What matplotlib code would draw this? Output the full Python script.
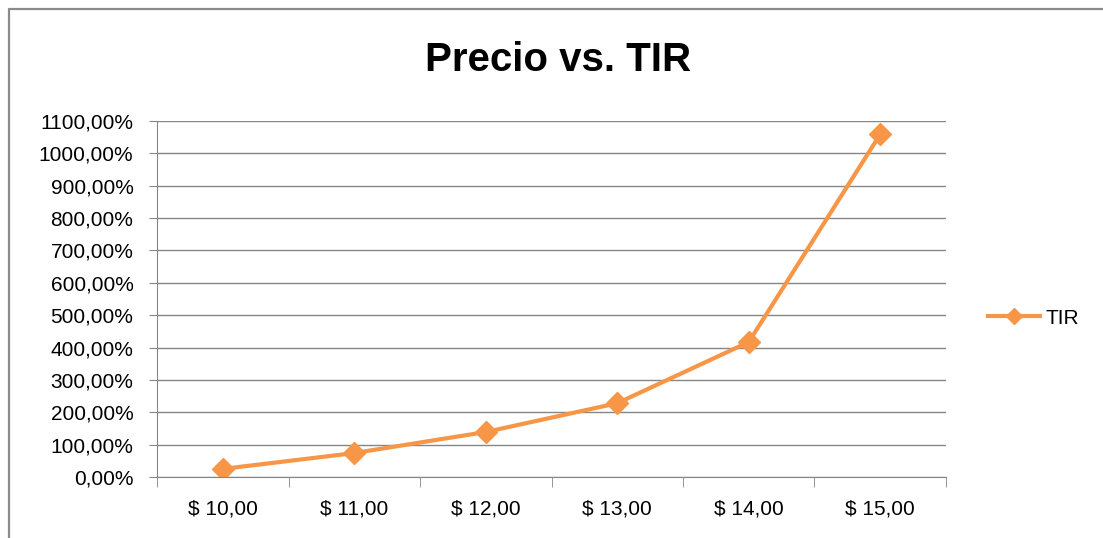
import matplotlib
matplotlib.use('Agg')
import matplotlib.pyplot as plt
from matplotlib.lines import Line2D
from matplotlib.ticker import FuncFormatter

plt.rcParams['font.family'] = ['Liberation Sans', 'DejaVu Sans']

precios = ['$ 10,00', '$ 11,00', '$ 12,00', '$ 13,00', '$ 14,00', '$ 15,00']
tir = [25, 74, 139, 228, 417, 1059]  # en %
ticks_y = list(range(0, 1101, 100))

naranja = '#F79646'
gris = '#868686'

fig = plt.figure(figsize=(11.03, 5.38), dpi=100)
# marco del grafico (solo arriba e izquierda, el resto queda fuera de la captura)
bx, by = 8.5 / 1103, 1 - 8.5 / 538
fig.add_artist(Line2D([bx, bx, 1.0], [0.0, by, by], transform=fig.transFigure,
                      color='#8a8a8a', linewidth=1.6))

ax = fig.add_axes([157 / 1103, 1 - 477 / 538, 789 / 1103, 356 / 538])
x = list(range(len(precios)))
ax.plot(x, tir, color=naranja, linewidth=3, marker='D', markersize=11,
        label='TIR')

ax.set_xlim(-0.5, len(precios) - 0.5)
ax.set_ylim(0, 1100)
ax.set_yticks(ticks_y)
ax.yaxis.set_major_formatter(FuncFormatter(lambda v, p: f'{v:.2f}%'.replace('.', ',')))
ax.set_xticks(x)
ax.set_xticklabels(precios)
ax.set_xticks([i - 0.5 for i in range(len(precios) + 1)], minor=True)
ax.tick_params(axis='x', which='major', length=0, pad=16, labelsize=15, colors='black')
ax.tick_params(axis='x', which='minor', length=7, color=gris)
ax.tick_params(axis='y', length=6, color=gris, labelsize=15, pad=11)

ax.grid(axis='y', color=gris, linewidth=1)
ax.set_axisbelow(True)
for s in ['top', 'right']:
    ax.spines[s].set_visible(False)
for s in ['left', 'bottom']:
    ax.spines[s].set_color(gris)

fig.text(558 / 1103, 1 - 60 / 538, 'Precio vs. TIR', ha='center', va='center',
         fontsize=29, fontweight='bold')

fig.legend(loc='center left', bbox_to_anchor=(988 / 1103, 1 - 318 / 538),
           frameon=False, fontsize=15, handlelength=2.5, handletextpad=0.25,
           borderaxespad=0, borderpad=0, markerscale=0.75)

fig.savefig('out.png', dpi=100)
